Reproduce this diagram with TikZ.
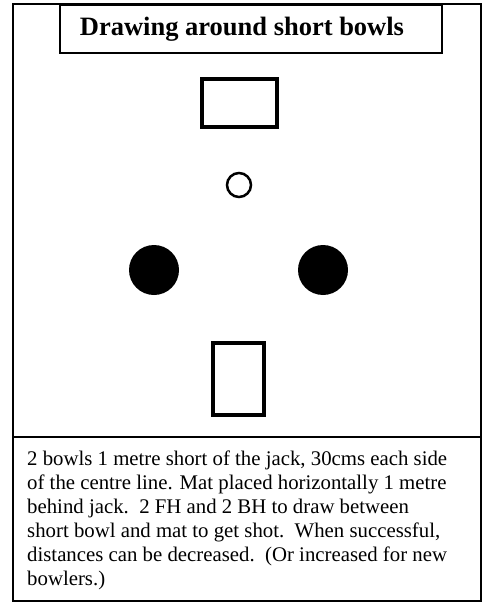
\documentclass[tikz,border=0pt]{standalone}
\usepackage{fontspec}
\setmainfont{Liberation Serif}
\usepackage{tikz}
\usetikzlibrary{positioning}

\begin{document}
\begin{tikzpicture}[
  x=1pt, y=-1pt,
  frame/.style={draw=black, line width=2pt},
  titlebox/.style={
    rectangle, draw=black, line width=2pt,
    minimum width=382pt, minimum height=48pt},
  mat/.style={rectangle, draw=black, line width=3.5pt, inner sep=0pt},
  jack/.style={circle, draw=black, line width=2.5pt, minimum size=24pt, inner sep=0pt},
  bowl/.style={circle, fill=black, minimum size=50pt, inner sep=0pt},
  notes/.style={
    anchor=north west, align=left, inner sep=0pt,
    font=\fontsize{20.8}{24}\selectfont},
]
  \useasboundingbox (0,0) rectangle (484,604);

  % Frame
  \draw[frame] (13,4) rectangle (481,601);
  \draw[frame] (13,437) -- (481,437);

  % Title
  \node[titlebox] (titleBox) at (251,29) {};
  \node[font=\fontsize{26.5}{28}\selectfont\bfseries] (title) at (242,29) {Drawing around short bowls};

  % Mats, jack and short bowls
  \node[mat, minimum width=75pt, minimum height=48pt] (matTop) at (239.5,103) {};
  \node[jack] (jack) at (239,185) {};
  \node[bowl] (bowlL) at (154,270) {};
  \node[bowl] (bowlR) at (323,270) {};
  \node[mat, minimum width=51pt, minimum height=72pt] (matBottom) at (238.5,379) {};

  % Notes
  \node[notes] (notes) at (27,451) {%
    2 bowls 1 metre short of the jack, 30cms each side\\
    of the centre line. Mat placed horizontally 1 metre\\
    behind jack.\ \ 2 FH and 2 BH to draw between\\
    short bowl and mat to get shot.\ \ When successful,\\
    distances can be decreased.\ \ (Or increased for new\\
    bowlers.)};
\end{tikzpicture}
\end{document}
